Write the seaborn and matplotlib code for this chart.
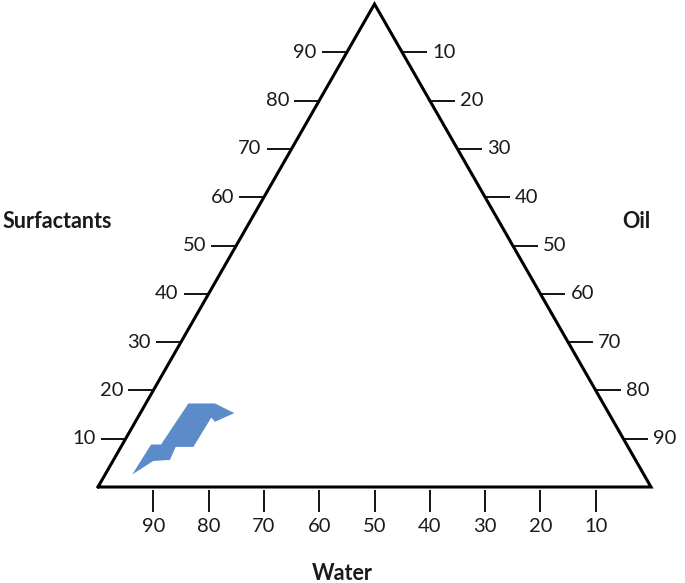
import numpy as np
import pandas as pd
import matplotlib
matplotlib.use("Agg")
import matplotlib.pyplot as plt
import seaborn as sns

# ── Data (percent) ────────────────────────────────────────────────────
tick_values = [10, 20, 30, 40, 50, 60, 70, 80, 90]
tick_labels = [str(v) for v in tick_values]

# shaded region, given as surfactant % and oil % (water = rest)
region_surfactant = [2.6, 8.8, 8.8, 17.3, 17.3, 15.3, 13.5, 14.4, 8.3, 8.3, 5.6, 5.4]
region_oil = [4.9, 5.2, 7.0, 7.7, 12.5, 17.0, 14.4, 13.3, 13.1, 9.9, 10.2, 7.3]

# ── Style ─────────────────────────────────────────────────────────────
sns.set_theme(style="white")
plt.rcParams['font.family'] = ['Lato', 'DejaVu Sans']

H = np.sqrt(3) / 2
PX_X = 553.0   # pixels per unit x
PX_Y = 557.7   # pixels per unit y


def to_xy(oil, surf):
    o = np.asarray(oil, dtype=float) / 100
    s = np.asarray(surf, dtype=float) / 100
    return o + s / 2, s * H


fig = plt.figure(figsize=(6.85, 5.83), dpi=100)
ax = fig.add_axes([0, 0, 1, 1])
ax.set_xlim(-98 / PX_X, 587 / PX_X)
ax.set_ylim(-96 / PX_Y, 487 / PX_Y)
ax.axis('off')

# ── Shaded region ─────────────────────────────────────────────────────
rx, ry = to_xy(region_oil, region_surfactant)
ax.fill(rx, ry, color="#5b8bc8", lw=0, zorder=2)

# ── Triangle outline ──────────────────────────────────────────────────
cx, cy = to_xy([0, 100, 0, 0], [0, 0, 100, 0])
outline = pd.DataFrame({'x': cx, 'y': cy})
sns.lineplot(data=outline, x='x', y='y', sort=False, estimator=None,
             color='black', lw=2.2, ax=ax, zorder=3)
ax.lines[-1].set_solid_joinstyle('miter')

tick_kw = dict(color='black', lw=1.3, solid_capstyle='butt', zorder=3)
txt_kw = dict(fontsize=14.5, color='#1a1a1a')
tl = 25

# Surfactants: left edge, rising upward
for v, lab in zip(tick_values, tick_labels):
    x0, y0 = to_xy(0, v)
    ax.plot([x0 - tl / PX_X, x0], [y0, y0], **tick_kw)
    ax.text(x0 - (tl + 5) / PX_X, y0, lab, ha='right', va='center', **txt_kw)

# Oil: right edge, increasing downward
for v, lab in zip(tick_values, tick_labels):
    x0, y0 = to_xy(v, 100 - v)
    ax.plot([x0, x0 + tl / PX_X], [y0, y0], **tick_kw)
    ax.text(x0 + (tl + 5) / PX_X, y0, lab, ha='left', va='center', **txt_kw)

# Water: bottom edge, increasing leftward
for v, lab in zip(tick_values, tick_labels):
    x0, y0 = to_xy(100 - v, 0)
    ax.plot([x0, x0], [-3 / PX_Y, -25 / PX_Y], **tick_kw)
    ax.text(x0, -39 / PX_Y, lab, ha='center', va='center', **txt_kw)

# ── Axis names ────────────────────────────────────────────────────────
name_kw = dict(fontsize=15.5, fontweight='bold', color='#1a1a1a')
ax.text((3 - 98) / PX_X, (487 - 222) / PX_Y, 'Surfactants', ha='left', va='center', **name_kw)
ax.text((636 - 98) / PX_X, (487 - 222) / PX_Y, 'Oil', ha='center', va='center', **name_kw)
ax.text((342 - 98) / PX_X, (487 - 573) / PX_Y, 'Water', ha='center', va='center', **name_kw)

fig.savefig('out.png', dpi=100)
